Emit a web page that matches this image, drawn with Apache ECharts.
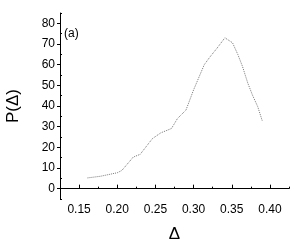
<!DOCTYPE html>
<html>
<head>
<meta charset="utf-8">
<script src="https://cdn.jsdelivr.net/npm/echarts@6/dist/echarts.min.js"></script>
<style>html,body{margin:0;padding:0;background:#fff}#c{width:295px;height:242px}</style>
</head>
<body>
<div id="c"></div>
<script>
var deltaValues = [0.161, 0.178, 0.200, 0.206, 0.221, 0.230, 0.246, 0.257, 0.271, 0.279, 0.290, 0.300, 0.314, 0.322, 0.331, 0.341, 0.351, 0.358, 0.364, 0.371, 0.377, 0.384, 0.390];
var pValues = [5.2, 6.0, 7.7, 8.8, 15.3, 16.6, 24.2, 27.0, 29.1, 34.0, 38.0, 47.8, 60.0, 64.0, 68.1, 73.0, 70.6, 64.9, 59.2, 51.1, 45.4, 39.7, 32.8];
var xTickLabels = [0.15, 0.20, 0.25, 0.30, 0.35, 0.40];
var xMinorTicks = [0.125, 0.175, 0.225, 0.275, 0.325, 0.375, 0.425];
var yTickLabels = [0, 10, 20, 30, 40, 50, 60, 70, 80];
var yMinorTicks = [-5, 5, 15, 25, 35, 45, 55, 65, 75, 85];

var font = 'Liberation Sans, Arial, sans-serif';
var chart = echarts.init(document.getElementById('c'), null, {renderer: 'canvas'});
var data = deltaValues.map(function (d, i) { return [d, pValues[i]]; });
chart.setOption({
  animation: false,
  grid: {left: 60, right: 6, top: 13, bottom: 43, containLabel: false, outerBoundsMode: 'none'},
  xAxis: [{
    type: 'value', min: 0.125, max: 0.425, interval: 0.025,
    name: 'Δ', nameLocation: 'middle', nameGap: 27,
    nameTextStyle: {fontFamily: font, fontSize: 17, color: '#000'},
    axisLine: {show: true, lineStyle: {color: '#000', width: 1}},
    axisTick: {show: true, inside: true, length: 4, customValues: xTickLabels, lineStyle: {color: '#000'}},
    axisLabel: {customValues: xTickLabels, margin: 5, fontFamily: font, fontSize: 12, color: '#000',
      formatter: function (v) { return v.toFixed(2); }},
    splitLine: {show: false}
  }, {
    type: 'value', min: 0.125, max: 0.425, interval: 0.025, position: 'bottom',
    axisLine: {show: false},
    axisTick: {show: true, inside: true, length: 2, customValues: xMinorTicks, lineStyle: {color: '#000'}},
    axisLabel: {show: false}, splitLine: {show: false}
  }],
  yAxis: [{
    type: 'value', min: -5, max: 85, interval: 5,
    name: 'P(Δ)', nameLocation: 'middle', nameGap: 38,
    nameTextStyle: {fontFamily: font, fontSize: 17, color: '#000'},
    axisLine: {show: true, lineStyle: {color: '#000', width: 1}},
    axisTick: {show: true, inside: false, length: 3, customValues: yTickLabels, lineStyle: {color: '#000'}},
    axisLabel: {customValues: yTickLabels, margin: 5, fontFamily: font, fontSize: 12, color: '#000'},
    splitLine: {show: false}
  }, {
    type: 'value', min: -5, max: 85, interval: 5, position: 'left',
    axisLine: {show: false},
    axisTick: {show: true, inside: true, length: 2, customValues: yMinorTicks, lineStyle: {color: '#000'}},
    axisLabel: {show: false}, splitLine: {show: false}
  }],
  graphic: [{
    type: 'text', left: 64, top: 28,
    style: {text: '(a)', font: '12px ' + font, fill: '#000'}
  }],
  series: [{
    type: 'line', data: data, xAxisIndex: 0, yAxisIndex: 0,
    showSymbol: false, smooth: false,
    lineStyle: {type: 'dotted', width: 1, color: '#777'}
  }]
});
</script>
</body>
</html>
